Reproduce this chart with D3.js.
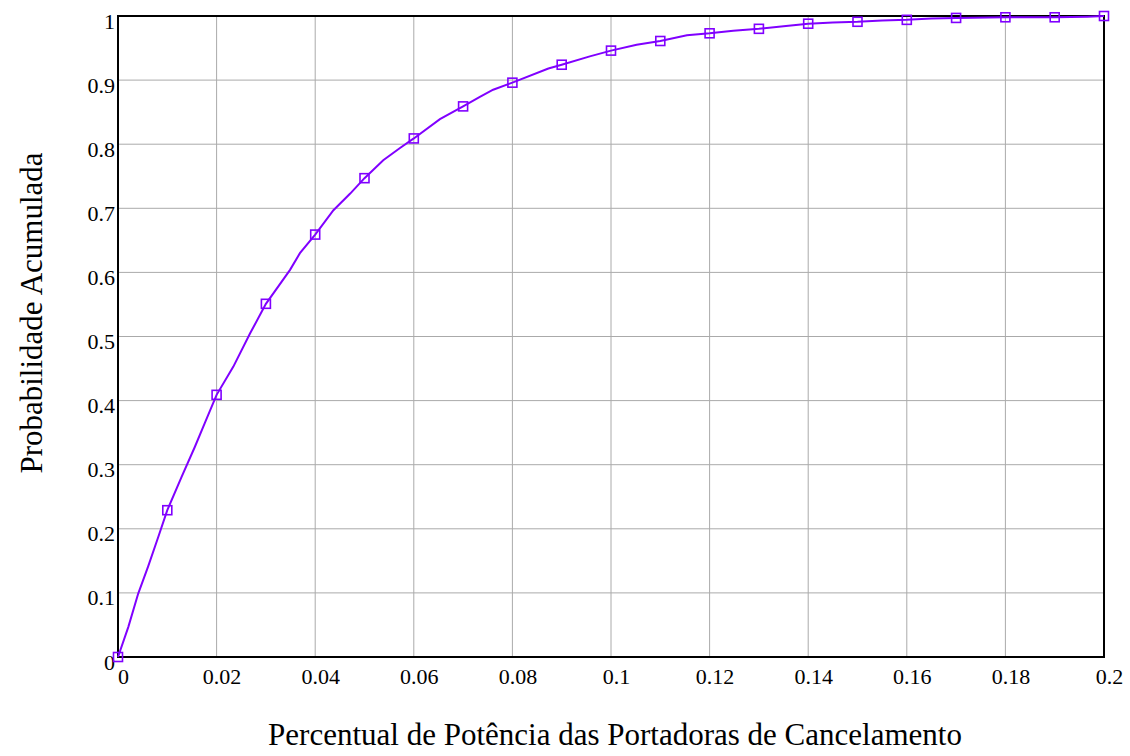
<!DOCTYPE html>
<html>
<head>
<meta charset="utf-8">
<script src="https://cdn.jsdelivr.net/npm/d3@7"></script>
<style>
html,body{margin:0;padding:0;background:#fff;}
svg{display:block;}
svg text{font-family:"Liberation Serif","Times New Roman",serif;}
</style>
</head>
<body>
<svg id="chart" width="1130" height="756"></svg>
<script>
const curveX = [0, 0.0021, 0.0041, 0.0061, 0.0082, 0.01, 0.0129, 0.0156, 0.0176, 0.02, 0.0234, 0.0268, 0.03, 0.0349, 0.0369, 0.04, 0.0437, 0.0471, 0.05, 0.0538, 0.0572, 0.06, 0.0653, 0.07, 0.0734, 0.0761, 0.08, 0.0873, 0.09, 0.0957, 0.10, 0.1052, 0.11, 0.1154, 0.12, 0.1248, 0.13, 0.135, 0.14, 0.145, 0.15, 0.155, 0.16, 0.165, 0.17, 0.18, 0.19, 0.1966, 0.2];
const curveY = [0, 0.047, 0.099, 0.141, 0.188, 0.229, 0.281, 0.328, 0.365, 0.409, 0.453, 0.505, 0.551, 0.604, 0.630, 0.659, 0.697, 0.723, 0.747, 0.775, 0.794, 0.809, 0.839, 0.859, 0.874, 0.885, 0.896, 0.918, 0.924, 0.937, 0.946, 0.955, 0.961, 0.970, 0.973, 0.977, 0.980, 0.984, 0.988, 0.990, 0.991, 0.993, 0.994, 0.996, 0.997, 0.998, 0.998, 0.999, 1.0];
// Square markers
const markerX = [0, 0.01, 0.02, 0.03, 0.04, 0.05, 0.06, 0.07, 0.08, 0.09, 0.10, 0.11, 0.12, 0.13, 0.14, 0.15, 0.16, 0.17, 0.18, 0.19, 0.20];
const markerY = [0, 0.229, 0.409, 0.551, 0.659, 0.747, 0.809, 0.859, 0.896, 0.924, 0.946, 0.961, 0.973, 0.980, 0.988, 0.991, 0.994, 0.997, 0.998, 0.998, 1.0];
const xTicks = [0, 0.02, 0.04, 0.06, 0.08, 0.1, 0.12, 0.14, 0.16, 0.18, 0.2];
const xTickLabels = ["0", "0.02", "0.04", "0.06", "0.08", "0.1", "0.12", "0.14", "0.16", "0.18", "0.2"];
const yTicks = [0, 0.1, 0.2, 0.3, 0.4, 0.5, 0.6, 0.7, 0.8, 0.9, 1];
const yTickLabels = ["0", "0.1", "0.2", "0.3", "0.4", "0.5", "0.6", "0.7", "0.8", "0.9", "1"];
const xTitle = "Percentual de Potência das Portadoras de Cancelamento";
const yTitle = "Probabilidade Acumulada";

const L = 118, R = 1104, T = 16, B = 657;
const color = "#8000ff";
const font = "'Liberation Serif', 'Times New Roman', serif";

const svg = d3.select("#chart");
const x = d3.scaleLinear().domain([0, 0.2]).range([L, R]);
const y = d3.scaleLinear().domain([0, 1]).range([B, T]);

// grid
const g = svg.append("g");
g.selectAll(".vg").data(xTicks).enter().append("line")
  .attr("x1", d => x(d)).attr("x2", d => x(d)).attr("y1", T).attr("y2", B)
  .attr("stroke", "#aaaaaa").attr("stroke-width", 1);
g.selectAll(".hg").data(yTicks).enter().append("line")
  .attr("x1", L).attr("x2", R).attr("y1", d => y(d)).attr("y2", d => y(d))
  .attr("stroke", "#aaaaaa").attr("stroke-width", 1);

// axes via d3
const xAxis = d3.axisBottom(x).tickValues(xTicks).tickSize(0).tickPadding(11)
  .tickFormat((d, i) => xTickLabels[i]);
const yAxis = d3.axisLeft(y).tickValues(yTicks).tickSize(0).tickPadding(3)
  .tickFormat((d, i) => yTickLabels[i]);
const gx = svg.append("g").attr("transform", `translate(5,${B})`).call(xAxis);
const gy = svg.append("g").attr("transform", `translate(${L},5)`).call(yAxis);
[gx, gy].forEach(a => {
  a.attr("font-family", null).attr("font-size", null);
  a.select(".domain").remove();
  a.selectAll("text").style("font-family", font).style("font-size", "22px").attr("fill", "#000");
});

// frame
svg.append("rect").attr("x", L).attr("y", T).attr("width", R - L).attr("height", B - T)
  .attr("fill", "none").attr("stroke", "#000").attr("stroke-width", 2);

// curve
const pts = curveX.map((d, i) => [d, curveY[i]]);
svg.append("path").datum(pts)
  .attr("d", d3.line().x(d => x(d[0])).y(d => y(d[1])))
  .attr("fill", "none").attr("stroke", color).attr("stroke-width", 2);

// markers
const mk = markerX.map((d, i) => [d, markerY[i]]);
svg.selectAll(".mk").data(mk).enter().append("rect")
  .attr("x", d => x(d[0]) - 4.5).attr("y", d => y(d[1]) - 4.5)
  .attr("width", 9).attr("height", 9)
  .attr("fill", "none").attr("stroke", color).attr("stroke-width", 1.6);

// titles
svg.append("text").attr("x", 615).attr("y", 745).attr("text-anchor", "middle")
  .style("font-family", font).style("font-size", "31px").text(xTitle);
svg.append("text").attr("transform", "translate(42,313) rotate(-90)").attr("text-anchor", "middle")
  .style("font-family", font).style("font-size", "31px").text(yTitle);
</script>
</body>
</html>
